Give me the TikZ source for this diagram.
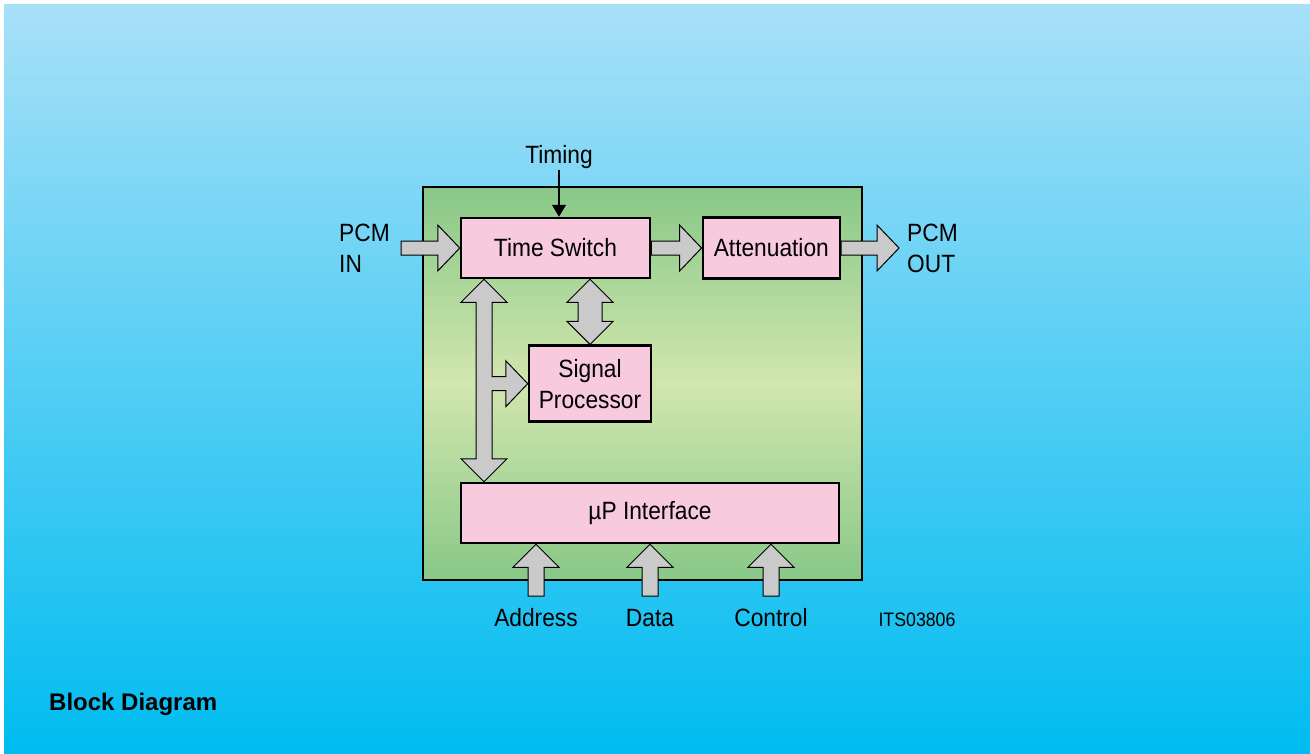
\documentclass[tikz,border=0pt]{standalone}
\usepackage{fontspec}
\setmainfont{Liberation Sans}[FakeStretch=0.91]
\newfontfamily\plainfont{Liberation Sans}
\usetikzlibrary{calc,arrows.meta}
\definecolor{bgtop}{HTML}{A8E0F8}
\definecolor{bgbot}{HTML}{00BCF0}
\definecolor{gedge}{HTML}{88C888}
\definecolor{gmid}{HTML}{D2E6AE}
\definecolor{pinkbox}{HTML}{F8CADE}
\definecolor{arrowgray}{HTML}{CACACA}
\tikzset{
  block/.style={draw=black, line width=2.5pt, fill=pinkbox, inner sep=0pt,
    font=\fontsize{25}{31}\selectfont, align=center},
  blockarrow/.style={draw=black, line width=1pt, fill=arrowgray, line join=miter},
  lbl/.style={font=\fontsize{25}{31}\selectfont, inner sep=1pt},
}
\newcommand\ArrR[2]{\draw[blockarrow] let \p1=(#1), \p2=(#2) in
  (\x1,\y2+7pt) -- (\x2-22pt,\y2+7pt) -- (\x2-22pt,\y2+23pt) -- (\x2,\y2)
  -- (\x2-22pt,\y2-23pt) -- (\x2-22pt,\y2-7pt) -- (\x1,\y2-7pt) -- cycle;}
\newcommand\ArrU[2]{\draw[blockarrow] let \p1=(#1), \p2=(#2) in
  (\x2+8pt,\y1) -- (\x2+8pt,\y2-23pt) -- (\x2+23pt,\y2-23pt) -- (\x2,\y2)
  -- (\x2-23pt,\y2-23pt) -- (\x2-8pt,\y2-23pt) -- (\x2-8pt,\y1) -- cycle;}
\begin{document}
\begin{tikzpicture}[x=1pt,y=-1pt]
\useasboundingbox (0,0) rectangle (1310,753);
\shade[top color=bgtop, bottom color=bgbot] (4,4) rectangle (1310,753);

% main green box
\node[draw=black, line width=2.5pt, minimum width=439pt, minimum height=393pt,
  top color=gedge, bottom color=gedge, middle color=gmid, inner sep=0pt]
  (chip) at (642.5,383.5) {};

% blocks
\node[block, minimum width=189pt, minimum height=60pt] (ts) at (555.5,248) {Time Switch};
\node[block, minimum width=137pt, minimum height=61pt] (att) at (771.3,248) {Attenuation};
\node[block, minimum width=122pt, minimum height=76pt] (sp) at (590,383.7) {Signal\\Processor};
\node[block, minimum width=378pt, minimum height=60pt] (up) at (650,513) {µP Interface};

% labels
\node[lbl] (tim) at (559,157) {Timing};
\node[lbl, align=left, anchor=west] (pcmin) at (338,248) {PCM\\IN};
\node[lbl, align=left, anchor=west] (pcmout) at (906,248) {PCM\\OUT};
\node[lbl] (addr) at (536,618) {Address};
\node[lbl] (data) at (650,618) {Data};
\node[lbl] (ctrl) at (771,618) {Control};
\node[font=\fontsize{19.5}{22}\selectfont, inner sep=0pt] (its) at (917,620) {ITS03806};
\node[font=\plainfont\bfseries\fontsize{24}{28}\selectfont, anchor=west, inner sep=0pt]
  (title) at (49,704) {Block Diagram};

% helper coordinates
\coordinate (pinstart) at (401,248);
\coordinate (pouttip) at (899,248);
\coordinate (addrx) at (536,596);
\coordinate (datax) at (650,596);
\coordinate (ctrlx) at (771,596);
\coordinate (bus) at (484,384);

% timing arrow
\draw[line width=1.4pt, -{Triangle[width=14pt,length=12pt]}]
  (tim.south) -- (tim.south |- ts.north);

% horizontal block arrows
\ArrR{pinstart}{ts.west}
\ArrR{ts.east}{att.west}
\ArrR{att.east}{pouttip}

% bottom block arrows
\ArrU{addrx}{addrx |- up.south}
\ArrU{datax}{datax |- up.south}
\ArrU{ctrlx}{ctrlx |- up.south}

% double arrow time switch <-> signal processor
\draw[blockarrow] let \p1=(sp.north |- ts.south), \p2=(sp.north) in
  (\x1,\y1) -- (\x1+23pt,\y1-23pt) -- (\x1+12pt,\y1-23pt) -- (\x1+12pt,\y2+23pt)
  -- (\x1+23pt,\y2+23pt) -- (\x1,\y2) -- (\x1-23pt,\y2+23pt) -- (\x1-12pt,\y2+23pt)
  -- (\x1-12pt,\y1-23pt) -- (\x1-23pt,\y1-23pt) -- cycle;

% bus arrow with branch to signal processor
\draw[blockarrow] let \p1=(bus |- ts.south), \p2=(bus |- up.north), \p3=(sp.west) in
  (\x1,\y1) -- (\x1+23pt,\y1-23pt) -- (\x1+8pt,\y1-23pt)
  -- (\x1+8pt,\y3+7pt) -- (\x3-22pt,\y3+7pt) -- (\x3-22pt,\y3+23pt) -- (\x3,\y3)
  -- (\x3-22pt,\y3-23pt) -- (\x3-22pt,\y3-7pt) -- (\x1+8pt,\y3-7pt)
  -- (\x1+8pt,\y2+23pt) -- (\x1+23pt,\y2+23pt) -- (\x1,\y2)
  -- (\x1-23pt,\y2+23pt) -- (\x1-8pt,\y2+23pt) -- (\x1-8pt,\y1-23pt)
  -- (\x1-23pt,\y1-23pt) -- cycle;
\end{tikzpicture}
\end{document}
